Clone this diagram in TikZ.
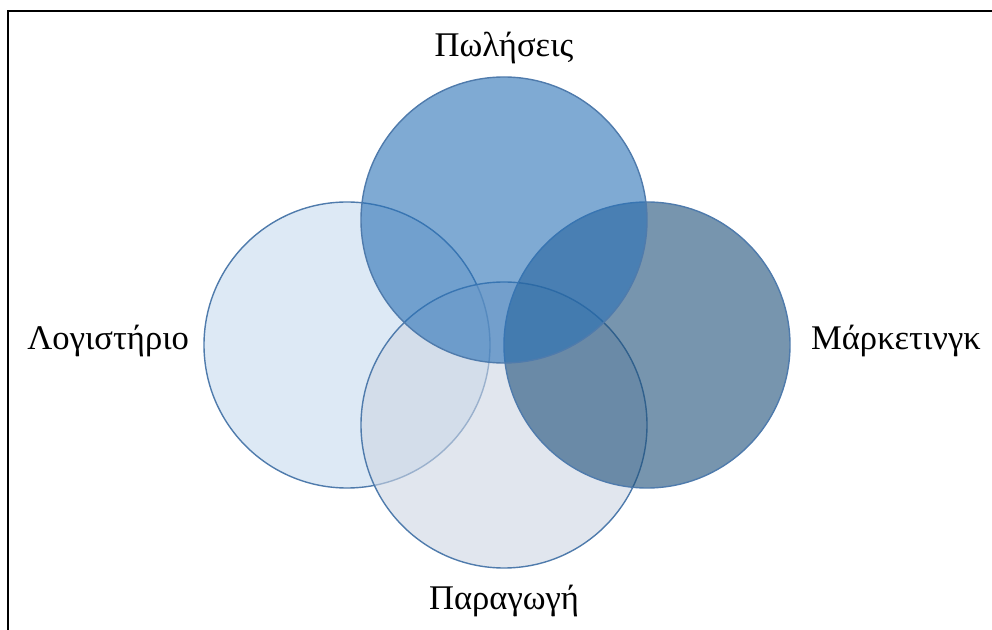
\documentclass[tikz,border=0pt]{standalone}
\usepackage{fontspec}
\setmainfont{Liberation Serif}
\usetikzlibrary{positioning}

\definecolor{vennedge}{RGB}{79,123,172}
\definecolor{salesfill}{RGB}{42,113,182}
\definecolor{acctfill}{RGB}{198,218,238}
\definecolor{mktfill}{RGB}{28,78,120}
\definecolor{prodfill}{RGB}{205,213,227}

\begin{document}
\begin{tikzpicture}[x=0.5pt,y=-0.5pt,
  venn/.style={circle,draw=vennedge,line width=0.7pt,fill opacity=0.6,
    minimum size=143pt,inner sep=0pt},
  tag/.style={font=\fontsize{17.3}{21}\selectfont,inner sep=0pt}]

\useasboundingbox (0,0) rectangle (992,630);

% frame
\draw[line width=1pt] (992,11) -- (8,11) -- (8,630);

% circles, back to front
\node[venn,fill=acctfill] (acct) at (347,345) {};
\node[venn,fill=prodfill] (prod) at (504,425) {};
\node[venn,fill=mktfill] (mkt) at (647,345) {};
\node[venn,fill=salesfill] (sales) at (504,220) {};

% labels
\node[tag,above=6pt of sales] (salestext) {Πωλήσεις};
\node[tag,left=7pt of acct,anchor=mid east] (accttext) {Λογιστήριο};
\node[tag,right=10pt of mkt,anchor=mid west] (mkttext) {Μάρκετινγκ};
\node[tag,below=8pt of prod] (prodtext) {Παραγωγή};

\end{tikzpicture}
\end{document}
